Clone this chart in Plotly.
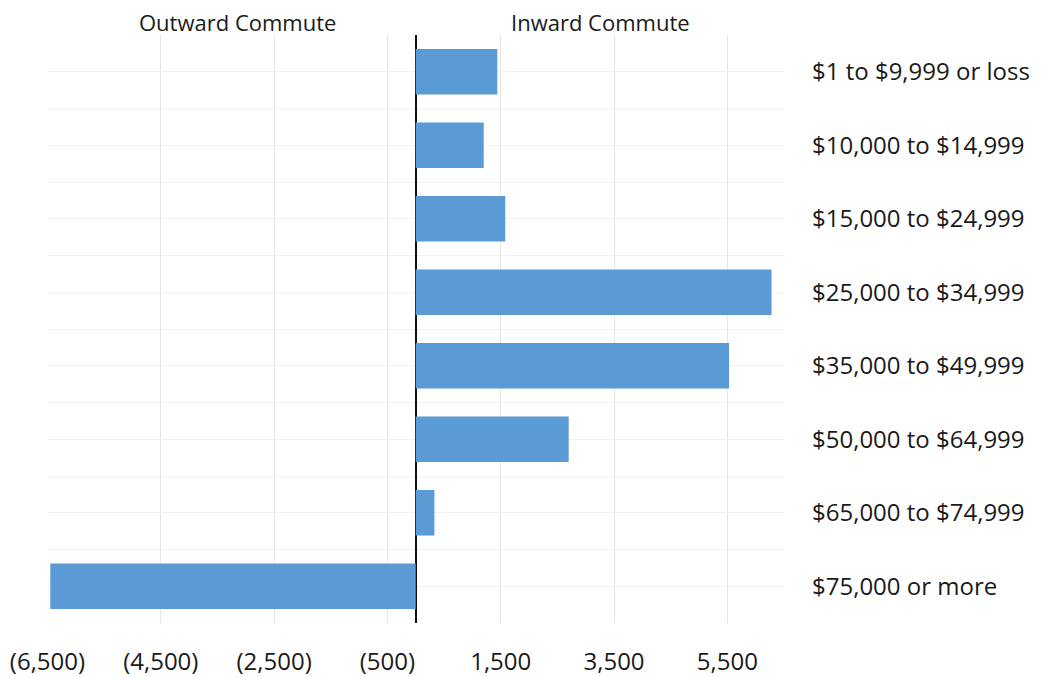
import plotly.graph_objects as go

categories = [
    "$1 to $9,999 or loss",
    "$10,000 to $14,999",
    "$15,000 to $24,999",
    "$25,000 to $34,999",
    "$35,000 to $49,999",
    "$50,000 to $64,999",
    "$65,000 to $74,999",
    "$75,000 or more",
]
net_commute = [1440, 1200, 1580, 6280, 5530, 2700, 330, -6450]

x_tickvals = [-6500, -4500, -2500, -500, 1500, 3500, 5500]
x_ticktext = ["(6,500)", "(4,500)", "(2,500)", "(500)", "1,500", "3,500", "5,500"]

side_titles = ["Outward Commute", "Inward Commute"]

positions = list(range(len(categories)))

FONT = "Open Sans"
TEXT = "#1a1a1a"

fig = go.Figure()
fig.add_trace(go.Bar(
    x=net_commute,
    y=positions,
    orientation="h",
    width=0.62,
    marker=dict(color="#5B9BD5", line=dict(width=0)),
    hovertext=categories,
    showlegend=False,
))

# the page body adds an 8px offset; size the figure so it fits the window
fig.update_layout(
    width=1034,
    height=669,
    margin=dict(l=39, r=258, t=27, b=54),
    paper_bgcolor="white",
    plot_bgcolor="white",
    font=dict(family=FONT, color=TEXT),
)

fig.update_xaxes(
    range=[-6508, 6500],
    tickvals=x_tickvals,
    ticktext=x_ticktext,
    showgrid=True,
    gridcolor="#e6e6e6",
    gridwidth=1,
    zeroline=True,
    zerolinecolor="#111111",
    zerolinewidth=2,
    showline=False,
    ticks="",
    automargin=False,
    ticklabelstandoff=22,
    tickfont=dict(family=FONT, size=24, color=TEXT),
)

fig.update_yaxes(
    range=[len(categories) - 0.5, -0.5],
    tickvals=positions,
    ticktext=categories,
    side="right",
    showgrid=True,
    gridcolor="#f1f1f1",
    gridwidth=1,
    minor=dict(dtick=1, tick0=0.5, showgrid=True, gridcolor="#f1f1f1", gridwidth=1),
    zeroline=False,
    showline=False,
    ticks="",
    automargin=False,
    ticklabelstandoff=27,
    tickfont=dict(family=FONT, size=24, color=TEXT),
)

for label, xpos in zip(side_titles, [0.259, 0.751]):
    fig.add_annotation(
        text=label,
        xref="paper", yref="paper",
        x=xpos, y=1.022,
        xanchor="center", yanchor="middle",
        showarrow=False,
        font=dict(family=FONT, size=22, color=TEXT),
    )

fig.write_html("out.html")
